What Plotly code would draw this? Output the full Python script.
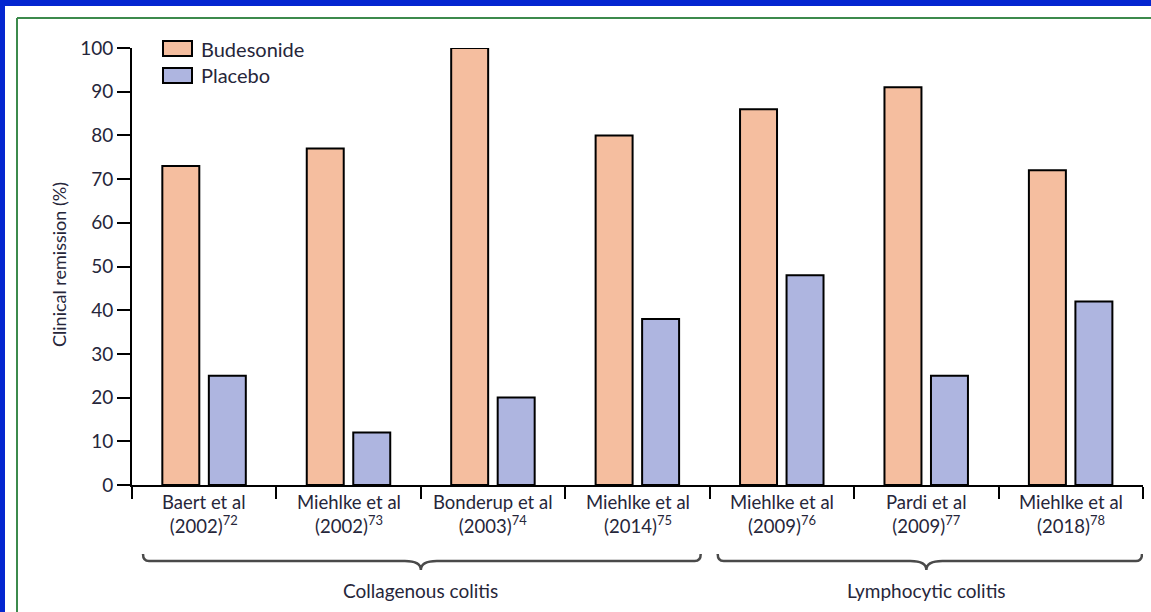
import plotly.graph_objects as go

# Trial data: clinical remission rates (%)
studies = ["Baert et al", "Miehlke et al", "Bonderup et al", "Miehlke et al ",
           "Miehlke et al  ", "Pardi et al", "Miehlke et al   "]
years = ["2002", "2002", "2003", "2014", "2009", "2009", "2018"]
refs = ["72", "73", "74", "75", "76", "77", "78"]
budesonide = [73, 77, 100, 80, 86, 91, 72]
placebo = [25, 12, 20, 38, 48, 25, 42]
groups = [("Collagenous colitis", 0, 3), ("Lymphocytic colitis", 4, 6)]

W_FIG, H_FIG = 1151, 612
L, R, T, B = 132, 1143, 48, 485
PW, PH = R - L, B - T
CAT_PX = PW / len(studies)

BUD_COLOR = "#F5BE9F"
PLA_COLOR = "#AEB5E0"
TEXT_COLOR = "#26263a"
FONT = "Lato, 'Open Sans', sans-serif"


def paper_x(px):
    return (px - L) / PW


def paper_y(py):
    return (B - py) / PH


def dx(px):
    return px / CAT_PX


fig = go.Figure()
fig.add_trace(go.Bar(x=studies, y=budesonide, name="Budesonide",
                     marker=dict(color=BUD_COLOR, line=dict(color="black", width=2)),
                     width=0.256, offset=-0.29, showlegend=False))
fig.add_trace(go.Bar(x=studies, y=placebo, name="Placebo",
                     marker=dict(color=PLA_COLOR, line=dict(color="black", width=2)),
                     width=0.256, offset=0.032, showlegend=False))

annotations = []
shapes = []

# two-line study labels under each category
for i, (s, yr, rf) in enumerate(zip(studies, years, refs)):
    annotations.append(dict(
        x=i, xref="x", y=paper_y(489), yref="paper", yanchor="top",
        text=f"{s.strip()}<br>({yr})<sup>{rf}</sup>", showarrow=False,
        font=dict(family=FONT, size=18.5, color=TEXT_COLOR), align="center"))

# braces grouping the studies
for name, i0, i1 in groups:
    x0 = i0 - 0.5 + dx(11)
    x1 = i1 + 0.5 - dx(1) if i1 == len(studies) - 1 else i1 + 0.5 - dx(9)
    if i0 > 0:
        x0 = i0 - 0.5 + dx(8)
    cx = (i0 + i1) / 2
    y_tip, y_line, y_pt = paper_y(554), paper_y(561), paper_y(570)
    r, r2 = dx(6), dx(16)
    path = (f"M {x0},{y_tip} Q {x0},{y_line} {x0 + r},{y_line} "
            f"L {cx - r2},{y_line} Q {cx},{y_line} {cx},{y_pt} "
            f"Q {cx},{y_line} {cx + r2},{y_line} "
            f"L {x1 - r},{y_line} Q {x1},{y_line} {x1},{y_tip}")
    shapes.append(dict(type="path", path=path, xref="x", yref="paper",
                       line=dict(color="#4a4a4a", width=2.5)))
    annotations.append(dict(
        x=cx, xref="x", y=paper_y(590), yref="paper", yanchor="middle",
        text=name, showarrow=False,
        font=dict(family=FONT, size=19, color=TEXT_COLOR)))

# legend drawn as boxes and labels
for k, (label, color) in enumerate([("Budesonide", BUD_COLOR), ("Placebo", PLA_COLOR)]):
    top = 41 + 27 * k
    shapes.append(dict(type="rect", xref="paper", yref="paper",
                       x0=paper_x(163), x1=paper_x(192),
                       y0=paper_y(top), y1=paper_y(top + 15),
                       fillcolor=color, line=dict(color="black", width=2)))
    annotations.append(dict(
        x=paper_x(199), xref="paper", y=paper_y(top + 7.5), yref="paper",
        xanchor="left", yanchor="middle", text=label, showarrow=False,
        font=dict(family=FONT, size=20, color=TEXT_COLOR)))

# y axis title
annotations.append(dict(
    x=paper_x(46), xref="paper", y=paper_y(265), yref="paper",
    text="Clinical remission (%)", textangle=-90, showarrow=False,
    font=dict(family=FONT, size=18, color=TEXT_COLOR)))

# page frame: blue border and green rule
shapes += [
    dict(type="rect", xref="paper", yref="paper", x0=paper_x(0), x1=paper_x(W_FIG),
         y0=paper_y(0), y1=paper_y(6), fillcolor="#0426D0", line=dict(width=0)),
    dict(type="rect", xref="paper", yref="paper", x0=paper_x(0), x1=paper_x(5),
         y0=paper_y(0), y1=paper_y(H_FIG), fillcolor="#0426D0", line=dict(width=0)),
    dict(type="line", xref="paper", yref="paper", x0=paper_x(17), x1=paper_x(W_FIG),
         y0=paper_y(18), y1=paper_y(18), line=dict(color="#3C8A4C", width=2)),
    dict(type="line", xref="paper", yref="paper", x0=paper_x(17), x1=paper_x(17),
         y0=paper_y(18), y1=paper_y(H_FIG), line=dict(color="#3C8A4C", width=2)),
]

fig.update_layout(
    width=W_FIG, height=H_FIG,
    margin=dict(l=L, r=W_FIG - R, t=T, b=H_FIG - B, pad=0),
    paper_bgcolor="white", plot_bgcolor="white",
    barmode="overlay",
    shapes=shapes, annotations=annotations,
    xaxis=dict(type="category", range=[-0.5, len(studies) - 0.5],
               showline=True, linecolor="black", linewidth=2,
               ticks="outside", tickson="boundaries", ticklen=12, tickwidth=2,
               tickcolor="black", showticklabels=False, showgrid=False, zeroline=False),
    yaxis=dict(range=[0, 100], tickvals=list(range(0, 101, 10)),
               showline=True, linecolor="black", linewidth=2,
               ticks="outside", ticklen=13, tickwidth=2, tickcolor="black",
               tickfont=dict(family=FONT, size=19, color=TEXT_COLOR),
               showgrid=False, zeroline=False),
)

fig.write_html("out.html")
